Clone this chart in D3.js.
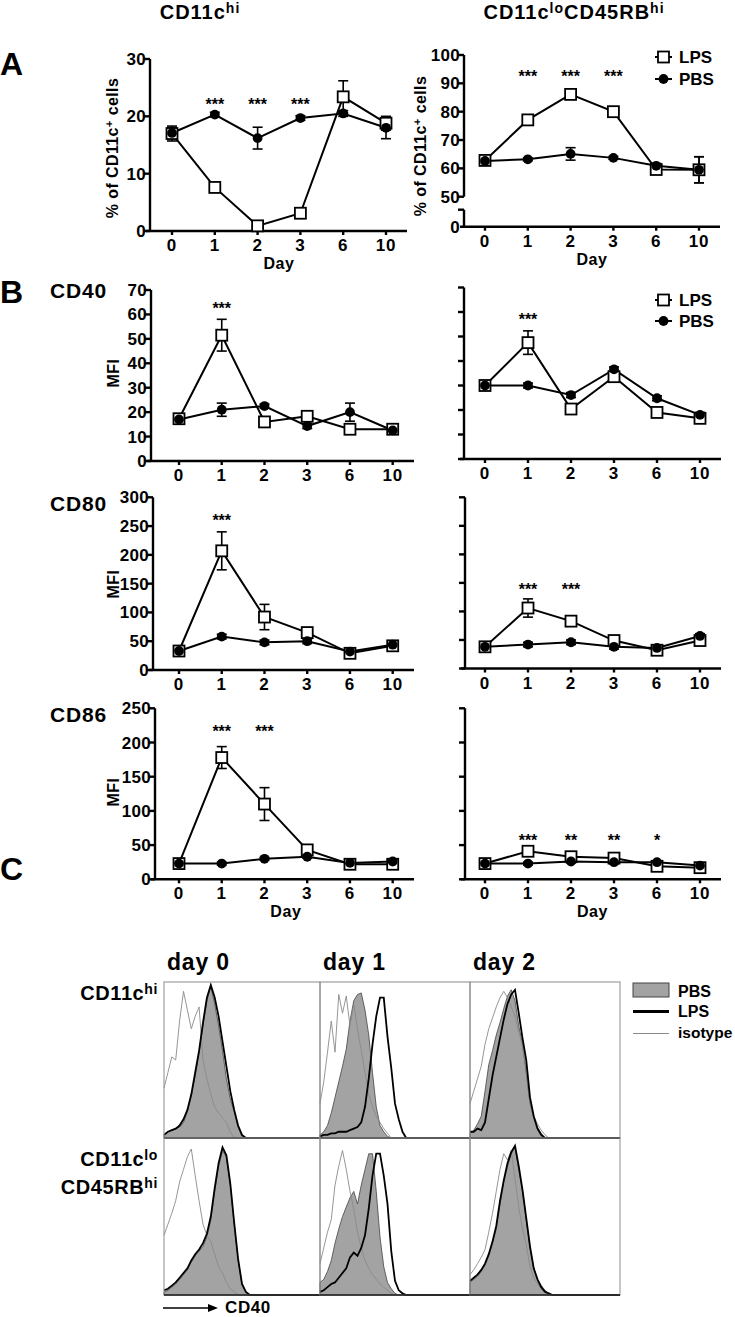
<!DOCTYPE html>
<html>
<head>
<meta charset="utf-8">
<script src="https://cdn.jsdelivr.net/npm/d3@7"></script>
<style>
  body { margin: 0; background: #fff; }
  svg text { font-family: "Liberation Sans", Arial, sans-serif; font-weight: bold; fill: #000; }
</style>
</head>
<body>
<svg id="fig" width="735" height="1317"></svg>
<script>
const days = ["0", "1", "2", "3", "6", "10"]

// A - % of CD11c+ cells
const aHiLps = [17.0, 7.6, 0.9, 3.1, 23.4, 18.8]
const aHiLpsErr = [1.3, 0.5, 0.3, 0.5, 2.8, 1.2]
const aHiPbs = [17.1, 20.3, 16.2, 19.7, 20.5, 18.0]
const aHiPbsErr = [0.9, 0.4, 1.9, 0.4, 0.5, 1.9]
const aHiStars = ["", "***", "***", "***", "", ""]

const aLoLps = [62.8, 77.1, 86.1, 80.0, 59.6, 59.5]
const aLoLpsErr = [1.5, 1.0, 1.0, 1.0, 1.0, 4.6]
const aLoPbs = [62.6, 63.2, 65.1, 63.7, 60.9, 59.5]
const aLoPbsErr = [1.2, 0.5, 2.2, 0.5, 0.8, 4.6]
const aLoStars = ["", "***", "***", "***", "", ""]

// B - MFI
const cd40HiLps = [17.3, 51.5, 16.0, 18.3, 13.0, 13.0]
const cd40HiLpsErr = [1.5, 6.5, 1.0, 1.5, 1.5, 1.0]
const cd40HiPbs = [17.0, 21.0, 22.5, 14.3, 20.0, 12.5]
const cd40HiPbsErr = [1.0, 2.7, 0.8, 1.0, 3.7, 1.0]
const cd40HiStars = ["", "***", "", "", "", ""]

const cd40LoLps = [30.0, 47.5, 20.4, 33.6, 19.0, 16.6]
const cd40LoLpsErr = [1.0, 4.8, 1.0, 1.0, 1.0, 1.0]
const cd40LoPbs = [30.0, 30.0, 26.1, 36.6, 24.8, 18.0]
const cd40LoPbsErr = [1.0, 1.0, 1.0, 1.0, 1.0, 1.0]
const cd40LoStars = ["", "***", "", "", "", ""]

const cd80HiLps = [33, 207, 92, 65, 29, 42]
const cd80HiLpsErr = [5, 33, 22, 5, 5, 5]
const cd80HiPbs = [33, 58, 48, 50, 32, 44]
const cd80HiPbsErr = [4, 4, 4, 4, 4, 4]
const cd80HiStars = ["", "***", "", "", "", ""]

const cd80LoLps = [38, 106, 83, 49, 32, 49]
const cd80LoLpsErr = [4, 16, 5, 5, 4, 4]
const cd80LoPbs = [38, 42, 46, 38, 36, 57]
const cd80LoPbsErr = [4, 4, 4, 4, 4, 4]
const cd80LoStars = ["", "***", "***", "", "", ""]

const cd86HiLps = [23, 178, 110, 43, 22, 22]
const cd86HiLpsErr = [3, 16, 24, 4, 3, 3]
const cd86HiPbs = [23, 23, 30, 33, 24, 26]
const cd86HiPbsErr = [2, 2, 2, 2, 2, 2]
const cd86HiStars = ["", "***", "***", "", "", ""]

const cd86LoLps = [23, 41, 33, 31, 19, 17]
const cd86LoLpsErr = [2, 4, 3, 3, 2, 2]
const cd86LoPbs = [23, 23, 26, 25, 25, 20]
const cd86LoPbsErr = [2, 2, 2, 2, 2, 2]
const cd86LoStars = ["", "***", "**", "**", "*", ""]

// C - CD40 histograms (% of max, 40 channels, rest is 0)
const histDays = ["day 0", "day 1", "day 2"]
const isoHi0 = [32,42,52,50,75,94,82,70,78,84,50,38,28,20,16,13,10,4]
const pbsHi0 = [2,4,5,6,7,10,17,27,40,55,72,88,97,86,72,56,38,25,17,7,1]
const lpsHi0 = [2,4,5,6,8,12,18,28,42,56,74,90,98,90,78,62,46,30,18,8,2]
const isoHi1 = [22,36,55,75,55,92,80,91,72,86,70,56,42,28,20,14,10,6,3]
const pbsHi1 = [2,4,8,16,26,36,46,57,75,88,92,93,82,66,42,20,8,4,1]
const lpsHi1 = [1,2,2,3,3,4,4,4,5,6,7,10,20,38,60,78,90,90,65,45,22,12,4]
const isoHi2 = [22,30,38,46,60,70,77,84,90,94,90,84,78,68,59,45,22,14,9,5,2]
const pbsHi2 = [3,5,9,14,30,47,56,66,74,83,91,95,88,72,60,42,22,13,7,3]
const lpsHi2 = [4,4,6,5,10,25,40,52,64,76,86,92,95,80,64,50,26,14,6,2]
const isoLo0 = [38,45,52,60,72,80,88,93,76,60,45,38,34,26,18,14,8,4,2]
const pbsLo0 = [2,3,5,7,10,13,16,21,25,28,31,37,48,66,82,92,88,70,45,22,7,2]
const lpsLo0 = [3,4,6,8,11,14,17,22,26,29,33,39,50,68,84,94,89,71,46,23,7,2]
const isoLo1 = [20,30,40,48,70,82,92,80,66,55,40,30,22,17,13,10,7,5,3,1]
const pbsLo1 = [8,10,15,22,33,42,50,56,62,66,58,70,80,90,90,66,37,18,8,4,1]
const lpsLo1 = [2,3,5,7,8,11,14,17,24,27,25,30,38,55,76,90,90,76,58,28,9,3,1]
const isoLo2 = [13,16,20,24,29,40,52,66,80,90,86,92,74,56,42,32,18,11,7,4,1]
const pbsLo2 = [8,10,12,15,19,25,33,42,58,72,82,90,94,80,66,48,30,17,10,6,3,1]
const lpsLo2 = [9,11,13,16,20,26,34,44,60,73,84,91,95,82,67,49,31,17,10,5,2,1]

const svg = d3.select("#fig")

function rich(g, x, y, parts, size, anchor) {
  const t = g.append("text").attr("x", x).attr("y", y)
    .attr("font-size", size).attr("text-anchor", anchor || "start")
  let up = 0
  parts.forEach(([s, isSup]) => {
    const sh = isSup ? -size * 0.3 : 0
    t.append("tspan").text(s).attr("dy", sh - up).attr("font-size", isSup ? size * 0.7 : size)
    up = sh
  })
  return t
}

function ln(g, x1, y1, x2, y2, w) {
  return g.append("line").attr("x1", x1).attr("y1", y1).attr("x2", x2).attr("y2", y2)
    .attr("stroke", "#000").attr("stroke-width", w || 2.4)
}

function linePanel(o) {
  const g = svg.append("g")
  const x = d3.scalePoint(days, o.xr)
  const y = d3.scaleLinear(o.yd, o.yr)
  const base = o.xAxisY || o.yr[0]

  // y axis
  if (o.brk) {
    ln(g, o.ax, base, o.ax, o.brk)
    ln(g, o.ax - 6, o.brk, o.ax, o.brk)
    g.append("text").attr("x", o.ax - 4).attr("y", base + 6).attr("text-anchor", "end")
      .attr("font-size", 17).attr("letter-spacing", 0.3).text("0")
  }
  ln(g, o.ax, y(o.yd[0]), o.ax, y(o.yd[1]))
  o.yt.forEach(v => {
    ln(g, o.ax - 6, y(v), o.ax, y(v))
    if (o.labels) g.append("text").attr("x", o.ax - 4).attr("y", y(v) + 6).attr("text-anchor", "end")
      .attr("font-size", 17).attr("letter-spacing", 0.3).text(v)
  })

  // x axis
  ln(g, o.ax - 4, base, o.xEnd, base)
  days.forEach(d => {
    ln(g, x(d), base, x(d), base + 4)
    g.append("text").attr("x", x(d)).attr("y", base + 20).attr("text-anchor", "middle")
      .attr("font-size", 17).attr("letter-spacing", 0.8).text(d)
  })
  if (o.day) g.append("text").attr("x", (o.xr[0] + o.xr[1]) / 2).attr("y", base + 38)
    .attr("text-anchor", "middle").attr("font-size", 16).attr("letter-spacing", 0.6).text("Day")

  // axis title
  if (o.title) {
    const tg = g.append("g").attr("transform", `translate(${o.title.x + 6},${o.title.y}) rotate(-90)`)
    rich(tg, 0, 0, o.title.parts, 16, "middle").attr("letter-spacing", 0.4)
  }

  // series
  const line = d3.line().x((v, i) => x(days[i])).y(v => y(v))
  const series = [
    {v: o.pbs, e: o.pbsErr},
    {v: o.lps, e: o.lpsErr}
  ]
  series.forEach(s => {
    s.v.forEach((v, i) => {
      const cx = x(days[i])
      ln(g, cx, y(v - s.e[i]), cx, y(v + s.e[i]), 1.6)
      ln(g, cx - 5, y(v + s.e[i]), cx + 5, y(v + s.e[i]), 1.6)
      ln(g, cx - 5, y(v - s.e[i]), cx + 5, y(v - s.e[i]), 1.6)
    })
    g.append("path").attr("d", line(s.v)).attr("fill", "none")
      .attr("stroke", "#000").attr("stroke-width", 2)
  })
  g.selectAll("rect.lps").data(o.lps).join("rect")
    .attr("x", (v, i) => x(days[i]) - 5.5).attr("y", v => y(v) - 5.5)
    .attr("width", 11).attr("height", 11)
    .attr("fill", "#fff").attr("stroke", "#000").attr("stroke-width", 1.8)
  g.selectAll("circle.pbs").data(o.pbs).join("circle")
    .attr("cx", (v, i) => x(days[i])).attr("cy", v => y(v)).attr("r", 4.9).attr("fill", "#000")

  // significance
  o.stars.forEach((s, i) => {
    if (s) g.append("text").attr("x", x(days[i])).attr("y", y(o.starLevel) + 9)
      .attr("text-anchor", "middle").attr("font-size", 16).text(s)
  })

  // legend
  if (o.legendY) {
    const lx = 655
    ln(g, lx, o.legendY[0], lx + 17, o.legendY[0], 2)
    g.append("rect").attr("x", lx + 8.5 - 5.5).attr("y", o.legendY[0] - 5.5).attr("width", 11).attr("height", 11)
      .attr("fill", "#fff").attr("stroke", "#000").attr("stroke-width", 1.8)
    ln(g, lx, o.legendY[1], lx + 17, o.legendY[1], 2)
    g.append("circle").attr("cx", lx + 8.5).attr("cy", o.legendY[1]).attr("r", 4.9)
    g.append("text").attr("x", lx + 24).attr("y", o.legendY[0] + 6).attr("font-size", 17).text("LPS")
    g.append("text").attr("x", lx + 24).attr("y", o.legendY[1] + 6).attr("font-size", 17).text("PBS")
  }
}

const pctTitle = [["% of CD11c", false], ["+", true], [" cells", false]]

// titles and panel letters
rich(svg, 200, 19, [["CD11c", false], ["hi", true]], 20, "middle").attr("letter-spacing", 1)
rich(svg, 574, 19, [["CD11c", false], ["lo", true], ["CD45RB", false], ["hi", true]], 20, "middle").attr("letter-spacing", 1)
svg.append("text").attr("x", 0).attr("y", 75).attr("font-size", 32).text("A")
svg.append("text").attr("x", 0).attr("y", 303).attr("font-size", 32).text("B")
svg.append("text").attr("x", 0).attr("y", 880).attr("font-size", 32).text("C")
svg.append("text").attr("x", 50).attr("y", 298).attr("font-size", 21).attr("letter-spacing", 0.8).text("CD40")
svg.append("text").attr("x", 50).attr("y", 511).attr("font-size", 21).attr("letter-spacing", 0.8).text("CD80")
svg.append("text").attr("x", 50).attr("y", 722).attr("font-size", 21).attr("letter-spacing", 0.8).text("CD86")

const cd40Ticks = d3.range(0, 71, 10)
const cd80Ticks = d3.range(0, 301, 50)
const cd86Ticks = d3.range(0, 251, 50)
const mfi = [["MFI", false]]

linePanel({ax: 150, xr: [172, 386], xEnd: 407, yd: [0, 30], yr: [231, 59], yt: [0, 10, 20, 30], labels: true,
  lps: aHiLps, lpsErr: aHiLpsErr, pbs: aHiPbs, pbsErr: aHiPbsErr, stars: aHiStars, starLevel: 22.7,
  title: {x: 112, y: 148, parts: pctTitle}, day: true})
linePanel({ax: 464, xr: [485, 699], xEnd: 720, yd: [50, 100], yr: [196.7, 55], yt: [50, 60, 70, 80, 90, 100],
  labels: true, xAxisY: 226.7, brk: 209.7,
  lps: aLoLps, lpsErr: aLoLpsErr, pbs: aLoPbs, pbsErr: aLoPbsErr, stars: aLoStars, starLevel: 93.6,
  title: {x: 420, y: 146, parts: pctTitle}, day: true, legendY: [57, 79]})

linePanel({ax: 151, xr: [179, 392.7], xEnd: 414, yd: [0, 70], yr: [461, 290], yt: cd40Ticks, labels: true,
  lps: cd40HiLps, lpsErr: cd40HiLpsErr, pbs: cd40HiPbs, pbsErr: cd40HiPbsErr, stars: cd40HiStars, starLevel: 63.9,
  title: {x: 113, y: 373, parts: mfi}})
linePanel({ax: 464, xr: [485, 700], xEnd: 721, yd: [0, 70], yr: [459, 287.5], yt: cd40Ticks, labels: false,
  lps: cd40LoLps, lpsErr: cd40LoLpsErr, pbs: cd40LoPbs, pbsErr: cd40LoPbsErr, stars: cd40LoStars, starLevel: 58.4,
  legendY: [300, 321]})

linePanel({ax: 153, xr: [179, 392.7], xEnd: 414, yd: [0, 300], yr: [670, 497.3], yt: cd80Ticks, labels: true,
  lps: cd80HiLps, lpsErr: cd80HiLpsErr, pbs: cd80HiPbs, pbsErr: cd80HiPbsErr, stars: cd80HiStars, starLevel: 266,
  title: {x: 113, y: 584, parts: mfi}})
linePanel({ax: 465, xr: [485, 700], xEnd: 721, yd: [0, 300], yr: [668.5, 497.3], yt: cd80Ticks, labels: false,
  lps: cd80LoLps, lpsErr: cd80LoLpsErr, pbs: cd80LoPbs, pbsErr: cd80LoPbsErr, stars: cd80LoStars, starLevel: 144.7})

linePanel({ax: 155, xr: [179, 392.7], xEnd: 414, yd: [0, 250], yr: [879.3, 708.3], yt: cd86Ticks, labels: true,
  lps: cd86HiLps, lpsErr: cd86HiLpsErr, pbs: cd86HiPbs, pbsErr: cd86HiPbsErr, stars: cd86HiStars, starLevel: 220.8,
  title: {x: 113, y: 792, parts: mfi}, day: true})
linePanel({ax: 465, xr: [485, 700], xEnd: 721, yd: [0, 250], yr: [879.3, 708.3], yt: cd86Ticks, labels: false,
  lps: cd86LoLps, lpsErr: cd86LoLpsErr, pbs: cd86LoPbs, pbsErr: cd86LoPbsErr, stars: cd86LoStars, starLevel: 62.3,
  day: true})

// C histograms
const colX = [164, 320, 470, 620]
const rowY = [982, 1138, 1295]
const histGrid = [
  [[isoHi0, pbsHi0, lpsHi0], [isoHi1, pbsHi1, lpsHi1], [isoHi2, pbsHi2, lpsHi2]],
  [[isoLo0, pbsLo0, lpsLo0], [isoLo1, pbsLo1, lpsLo1], [isoLo2, pbsLo2, lpsLo2]]
]
const pad = a => d3.range(41).map(i => a[i] || 0)

histDays.forEach((d, c) => {
  svg.append("text").attr("x", colX[c] + 3).attr("y", 970).attr("font-size", 23).attr("letter-spacing", 0.8).text(d)
})
histGrid.forEach((row, r) => {
  row.forEach(([iso, pbs, lps], c) => {
    const g = svg.append("g")
    const x = d3.scaleLinear([0, 40], [colX[c], colX[c + 1]])
    const y = d3.scaleLinear([0, 100], [rowY[r + 1], rowY[r]])
    const pts = a => pad(a).map((v, i) => [x(i), y(v)])
    g.append("path").attr("d", d3.area().x(p => p[0]).y0(rowY[r + 1]).y1(p => p[1])(pts(pbs)))
      .attr("fill", "#a3a3a3").attr("stroke", "#444").attr("stroke-width", 0.8)
    g.append("path").attr("d", d3.line()(pts(iso))).attr("fill", "none")
      .attr("stroke", "#8a8a8a").attr("stroke-width", 0.9)
    g.append("path").attr("d", d3.line()(pts(lps))).attr("fill", "none")
      .attr("stroke", "#000").attr("stroke-width", 1.8)
    g.append("rect").attr("x", colX[c]).attr("y", rowY[r])
      .attr("width", colX[c + 1] - colX[c]).attr("height", rowY[r + 1] - rowY[r])
      .attr("fill", "none").attr("stroke", "#8c8c8c").attr("stroke-width", 1)
    ln(g, colX[c], rowY[r + 1], colX[c + 1], rowY[r + 1], 1.6).attr("stroke", "#222")
  })
})

rich(svg, 158, 1000, [["CD11c", false], ["hi", true]], 20, "end").attr("letter-spacing", 0.6)
rich(svg, 158, 1166, [["CD11c", false], ["lo", true]], 20, "end").attr("letter-spacing", 0.6)
rich(svg, 158, 1194, [["CD45RB", false], ["hi", true]], 20, "end").attr("letter-spacing", 0.6)

// histogram legend
svg.append("rect").attr("x", 633).attr("y", 983).attr("width", 36).attr("height", 14)
  .attr("fill", "#a3a3a3").attr("stroke", "#444").attr("stroke-width", 1)
ln(svg, 633, 1011.5, 669, 1011.5, 3)
ln(svg, 633, 1033.5, 669, 1033.5, 1).attr("stroke", "#8a8a8a")
svg.append("text").attr("x", 678).attr("y", 997).attr("font-size", 16).text("PBS")
svg.append("text").attr("x", 678).attr("y", 1017).attr("font-size", 16).text("LPS")
svg.append("text").attr("x", 678).attr("y", 1038).attr("font-size", 15.5).text("isotype")

// CD40 arrow
ln(svg, 163, 1308, 210, 1308, 1.6)
svg.append("path").attr("d", "M218,1308 L208,1304 L208,1312 Z").attr("fill", "#000")
svg.append("text").attr("x", 225).attr("y", 1313).attr("font-size", 17).attr("letter-spacing", 0.6).text("CD40")
</script>
</body>
</html>
